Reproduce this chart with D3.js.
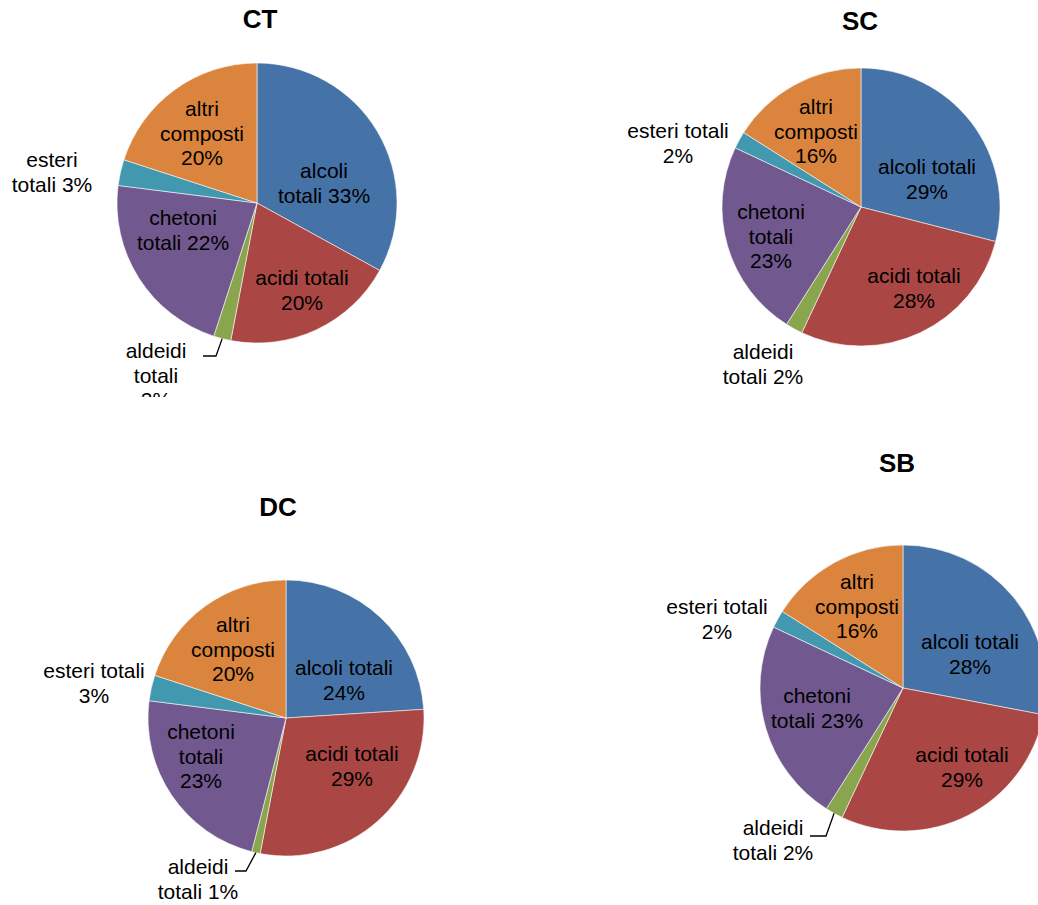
<!DOCTYPE html>
<html>
<head>
<meta charset="utf-8">
<script src="https://cdn.jsdelivr.net/npm/d3@7"></script>
<style>
  html, body { margin: 0; padding: 0; background: #ffffff; }
  svg { display: block; font-family: "Liberation Sans", Arial, sans-serif; }
</style>
</head>
<body>
<svg id="chart" width="1038" height="905"></svg>
<script>
// Volatile compound classes (same order in every pie, clockwise from 12 o'clock)
const categories = ["alcoli totali", "acidi totali", "aldeidi totali", "chetoni totali", "esteri totali", "altri composti"];
const sliceColors = ["#4572A7", "#AA4643", "#89A54E", "#71588F", "#4198AF", "#DB843D"];

// Sample names
const sampleNames = ["CT", "SC", "DC", "SB"];

// Percentages per sample
const valuesCT = [33, 20, 2, 22, 3, 20];
const valuesSC = [29, 28, 2, 23, 2, 16];
const valuesDC = [24, 29, 1, 23, 3, 20];
const valuesSB = [28, 29, 2, 23, 2, 16];

// How many words go on each line of each data label
const wrapCT = [[1, 2], [2, 1], [1, 1, 1], [1, 2], [1, 2], [1, 1, 1]];
const wrapSC = [[2, 1], [2, 1], [1, 2], [1, 1, 1], [2, 1], [1, 1, 1]];
const wrapDC = [[2, 1], [2, 1], [1, 2], [1, 1, 1], [2, 1], [1, 1, 1]];
const wrapSB = [[2, 1], [2, 1], [1, 2], [1, 2], [2, 1], [1, 1, 1]];

// Panel layout: pie centre/radius, title, clip area, label block centres (relative to pie centre)
const layouts = [
  { cx: 257, cy: 203, r: 140, title: [260, 28], clip: [0, 0, 520, 397],
    labels: [[67, -20], [45, 87], [-101, 172], [-74, 27], [-205, -31], [-55, -70]],
    leader: { index: 2, end: [-54, 153], knee: 13 } },
  { cx: 861, cy: 207, r: 139, title: [860, 30], clip: [520, 0, 518, 420],
    labels: [[66, -28], [53, 81], [-98, 157], [-90, 29], [-183, -64], [-45, -76]],
    leader: null },
  { cx: 286, cy: 718, r: 138, title: [278, 516], clip: [0, 440, 520, 465],
    labels: [[58, -38], [66, 48], [-88, 161], [-85, 38], [-192, -35], [-53, -69]],
    leader: { index: 2, end: [-51, 153], knee: 11 } },
  { cx: 903, cy: 688, r: 143, title: [897, 472], clip: [520, 420, 518, 485],
    labels: [[67, -34], [59, 79], [-130, 152], [-86, 20], [-186, -69], [-46, -82]],
    leader: { index: 2, end: [-93, 148], knee: 16 } }
];

const allValues = [valuesCT, valuesSC, valuesDC, valuesSB];
const allWraps = [wrapCT, wrapSC, wrapDC, wrapSB];

const svg = d3.select("#chart");
const defs = svg.append("defs");
const color = d3.scaleOrdinal().domain(categories).range(sliceColors);
const pie = d3.pie().sort(null).value(d => d.value);

const labelSize = 21, lineGap = 24.3;

sampleNames.forEach((name, i) => {
  const L = layouts[i];
  const clipId = "clip-" + name;
  defs.append("clipPath").attr("id", clipId)
    .append("rect").attr("x", L.clip[0]).attr("y", L.clip[1])
    .attr("width", L.clip[2]).attr("height", L.clip[3]);

  const panel = svg.append("g").attr("clip-path", `url(#${clipId})`);

  panel.append("text")
    .attr("x", L.title[0]).attr("y", L.title[1])
    .attr("text-anchor", "middle")
    .attr("font-size", 26).attr("font-weight", "bold").attr("fill", "#000")
    .text(name);

  const data = categories.map((c, k) => ({ cat: c, value: allValues[i][k] }));
  const arcs = pie(data);
  const arc = d3.arc().innerRadius(0).outerRadius(L.r);

  const g = panel.append("g").attr("transform", `translate(${L.cx},${L.cy})`);

  g.selectAll("path.slice").data(arcs).join("path")
    .attr("class", "slice")
    .attr("d", arc)
    .attr("fill", d => color(d.data.cat))
    .attr("stroke", "rgba(255,255,255,0.7)")
    .attr("stroke-width", 0.8);

  // Data labels
  arcs.forEach((a, k) => {
    const words = a.data.cat.split(" ").concat([a.data.value + "%"]);
    const lines = [];
    let p = 0;
    allWraps[i][k].forEach(n => { lines.push(words.slice(p, p + n).join(" ")); p += n; });
    const [lx, ly] = L.labels[k];
    const top = ly - (lines.length - 1) * lineGap / 2;
    const t = g.append("text")
      .attr("text-anchor", "middle")
      .attr("font-size", labelSize).attr("fill", "#000");
    lines.forEach((ln, j) => {
      t.append("tspan").attr("x", lx).attr("y", top + j * lineGap + 7.5).text(ln);
    });
  });

  // Leader line for the thin slice labelled outside
  if (L.leader) {
    const a = arcs[L.leader.index];
    const mid = (a.startAngle + a.endAngle) / 2;
    const edge = [Math.sin(mid) * L.r, -Math.cos(mid) * L.r];
    const [ex, ey] = L.leader.end;
    g.append("path")
      .attr("d", d3.line()([[ex, ey], [ex + L.leader.knee, ey], edge]))
      .attr("fill", "none").attr("stroke", "#000").attr("stroke-width", 1.3);
  }
});
</script>
</body>
</html>
